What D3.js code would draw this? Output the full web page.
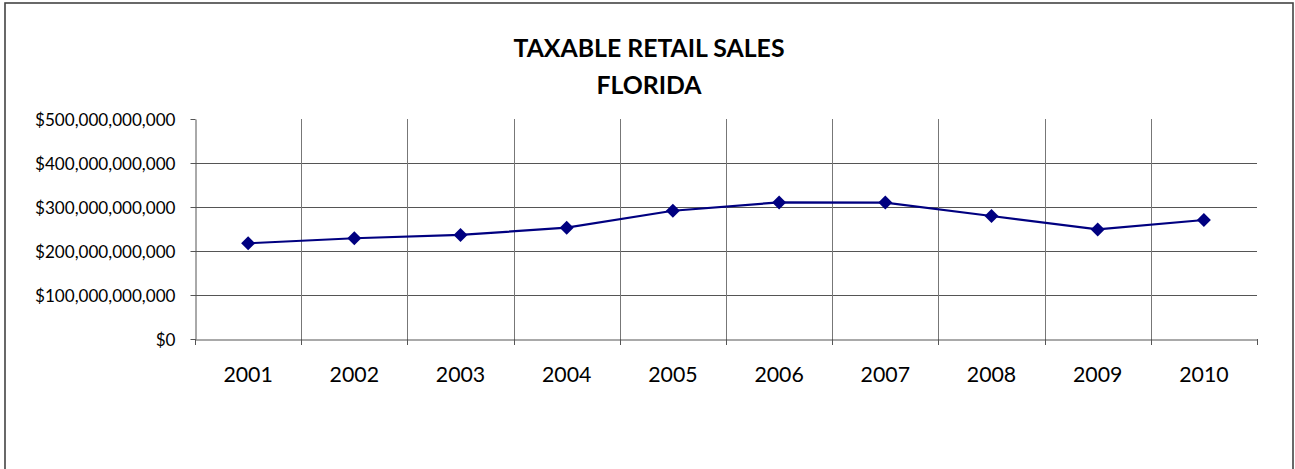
<!DOCTYPE html>
<html>
<head>
<meta charset="utf-8">
<script src="https://cdn.jsdelivr.net/npm/d3@7"></script>
<style>
  html, body { margin: 0; padding: 0; background: #fff; }
  svg { display: block; }
  text { font-family: Lato, "Open Sans", sans-serif; fill: #000; }
</style>
</head>
<body>
<svg id="chart" width="1295" height="469"></svg>
<script>
// Florida taxable retail sales by year (dollars)
const years = ["2001", "2002", "2003", "2004", "2005", "2006", "2007", "2008", "2009", "2010"];
const sales = [217.5e9, 229e9, 236.5e9, 253e9, 291.5e9, 310.5e9, 310e9, 279.5e9, 249e9, 270.5e9];
const yTicks = [0, 100e9, 200e9, 300e9, 400e9, 500e9];
const titleLines = ["TAXABLE RETAIL SALES", "FLORIDA"];

const svg = d3.select("#chart");
const plot = { left: 195, right: 1257, top: 119, bottom: 339 };

// outer chart frame (bottom edge runs past the window)
svg.append("rect")
  .attr("x", 5).attr("y", 3)
  .attr("width", 1288).attr("height", 480)
  .attr("fill", "#fff")
  .attr("stroke", "#444").attr("stroke-width", 1.6);

const x = d3.scaleBand().domain(years).range([plot.left, plot.right]).padding(0);
const y = d3.scaleLinear().domain([0, 500e9]).range([plot.bottom, plot.top]);

const money = d3.format("$,.0f");

// horizontal gridlines
svg.append("g")
  .selectAll("line")
  .data(yTicks.filter(d => d > 0 && d < 500e9))
  .join("line")
  .attr("x1", plot.left).attr("x2", plot.right)
  .attr("y1", d => Math.round(y(d)) + 0.5).attr("y2", d => Math.round(y(d)) + 0.5)
  .attr("stroke", "#555").attr("stroke-width", 1);

// vertical gridlines at category boundaries
svg.append("g")
  .selectAll("line")
  .data(years.slice(1))
  .join("line")
  .attr("x1", d => Math.round(x(d)) + 0.5).attr("x2", d => Math.round(x(d)) + 0.5)
  .attr("y1", plot.top).attr("y2", plot.bottom)
  .attr("stroke", "#777").attr("stroke-width", 1);

// y axis
const yAxis = svg.append("g")
  .attr("transform", `translate(${plot.left + 0.5},0)`)
  .call(d3.axisLeft(y).tickValues(yTicks).tickFormat(money).tickSize(5).tickPadding(15).tickSizeOuter(0));
yAxis.select(".domain").attr("stroke", "#555");
yAxis.selectAll(".tick line").attr("stroke", "#555");
yAxis.selectAll(".tick text")
  .style("font-size", "17.1px")
  .attr("dy", "0.35em");

// x axis with ticks at category boundaries
const xAxis = svg.append("g")
  .attr("transform", `translate(0,${plot.bottom + 0.5})`)
  .call(d3.axisBottom(x).tickSize(0).tickPadding(27).tickSizeOuter(0));
xAxis.select(".domain").attr("stroke", "#555");
xAxis.selectAll(".tick text").style("font-size", "21.3px");
svg.append("g")
  .selectAll("line")
  .data(years.map(d => x(d)).concat([plot.right]))
  .join("line")
  .attr("x1", d => Math.round(d) + 0.5).attr("x2", d => Math.round(d) + 0.5)
  .attr("y1", plot.bottom).attr("y2", plot.bottom + 6)
  .attr("stroke", "#555");

// series line
const cx = d => x(d) + x.bandwidth() / 2;
svg.append("path")
  .datum(years.map((d, i) => [cx(d), y(sales[i])]))
  .attr("fill", "none")
  .attr("stroke", "#000080")
  .attr("stroke-width", 2.2)
  .attr("d", d3.line());

// diamond markers
svg.append("g")
  .selectAll("path")
  .data(years)
  .join("path")
  .attr("transform", (d, i) => `translate(${cx(d)},${y(sales[i])}) rotate(45)`)
  .attr("d", d3.symbol(d3.symbolSquare, 98)())
  .attr("fill", "#000080");

// title
svg.append("g")
  .selectAll("text")
  .data(titleLines)
  .join("text")
  .attr("x", 649)
  .attr("y", (d, i) => 57 + i * 37)
  .attr("text-anchor", "middle")
  .style("font-size", "24.8px")
  .style("font-weight", "bold")
  .text(d => d);
</script>
</body>
</html>
